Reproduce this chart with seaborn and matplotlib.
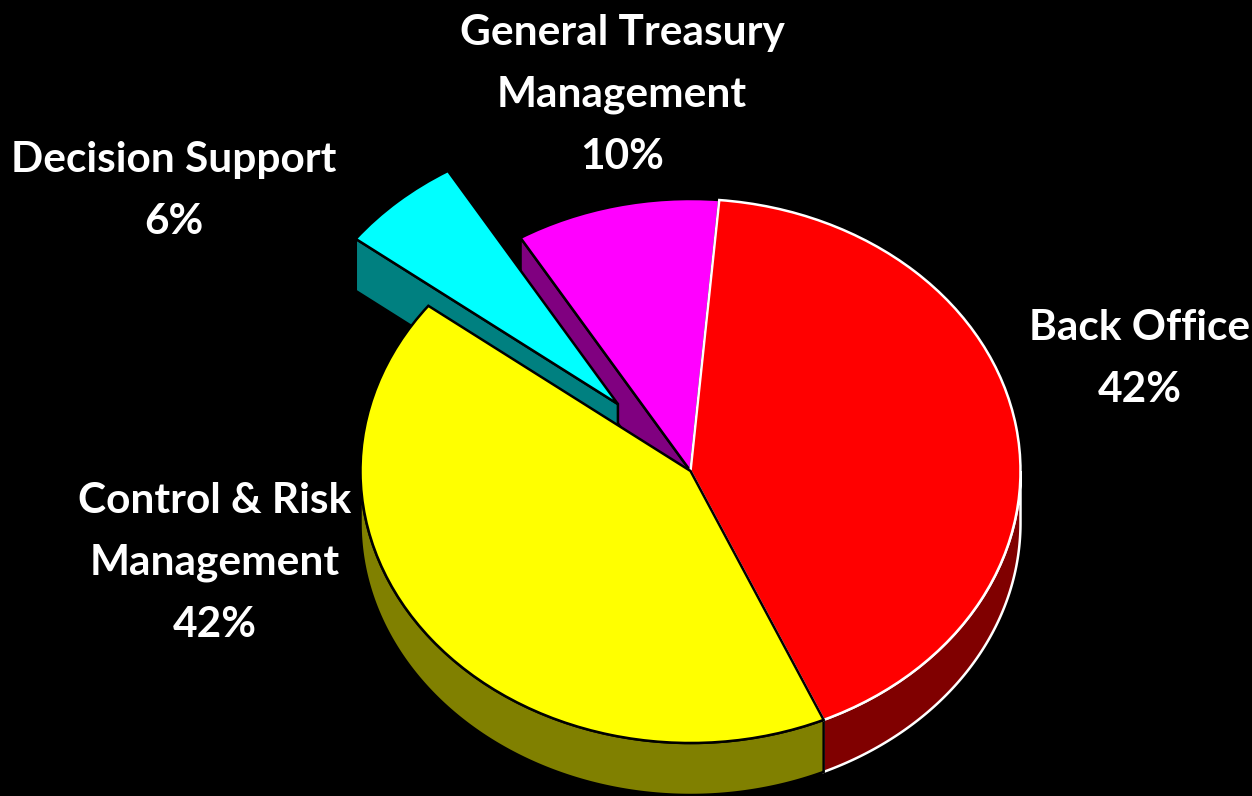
import numpy as np
import matplotlib
matplotlib.use("Agg")
import matplotlib.pyplot as plt
from matplotlib.patches import Polygon
import seaborn as sns

# Share of effort by function
categories = ["Back Office", "Control & Risk\nManagement", "Decision Support",
              "General Treasury\nManagement"]
shares = [42, 42, 6, 10]
face_colors = ["#FF0000", "#FFFF00", "#00FFFF", "#FF00FF"]
wall_colors = ["#800000", "#808000", "#008080", "#800080"]
edge_colors = ["white", "black", "black", "black"]
explode = [0, 0, 0.33, 0]

# Label anchors: centre x and first baseline y, in figure pixels
label_x = [1140, 215, 174, 622]
label_y = [340, 513, 172, 45]
LINE_STEP = 62

W, H, DPI = 1252, 796, 100
CX, CY, RX, RY = 690.5, 471, 330, 272   # pie centre and radii on the page
DEPTH = 52 / RY                          # disc thickness in data units

sns.set_theme(style="dark")
plt.rcParams["font.family"] = ["Lato", "DejaVu Sans"]

fig = plt.figure(figsize=(W / DPI, H / DPI), dpi=DPI, facecolor="black")
ax = fig.add_axes([0, 0, 1, 1])
ax.set_facecolor("black")

wedges, _ = ax.pie(shares, colors=face_colors, explode=explode, startangle=85,
                   counterclock=False, radius=1, center=(0, 0),
                   wedgeprops=dict(linewidth=1.8))
ax.set_aspect("auto")
ax.set_xlim(-CX / RX, (W - CX) / RX)
ax.set_ylim(-(H - CY) / RY, CY / RY)
ax.axis("off")

n = len(wedges)
top_order = {3: 4, 0: 5, 1: 6}
for i, w in enumerate(wedges):
    w.set_edgecolor(edge_colors[i])
    w.set_zorder(3 if explode[i] > 0 else top_order.get(i, 4))


def arc(cx, cy, t):
    return cx + np.cos(t), cy + np.sin(t)


# Outer walls: the parts of each rim that face the viewer
for i in [0, 1, 2, 3]:
    w = wedges[i]
    cx, cy = w.center
    t = np.radians(np.linspace(w.theta1, w.theta2, 600))
    front = np.sin(t) <= 0
    if not front.any():
        continue
    idx = np.flatnonzero(front)
    runs = np.split(idx, np.flatnonzero(np.diff(idx) > 1) + 1)
    for run in runs:
        tt = t[run]
        xs, ys = arc(cx, cy, tt)
        pts = np.column_stack([np.r_[xs, xs[::-1]], np.r_[ys, ys[::-1] - DEPTH]])
        ax.add_patch(Polygon(pts, closed=True, facecolor=wall_colors[i],
                             edgecolor=edge_colors[i], linewidth=1.8,
                             zorder=2 + 0.1 * i))

# Radial walls exposed by the gap round the pulled-out slice
for i, w in enumerate(wedges):
    cx, cy = w.center
    for theta, normal, nb in [(w.theta2, w.theta2 + 90, (i - 1) % n),
                              (w.theta1, w.theta1 - 90, (i + 1) % n)]:
        if explode[i] == 0 and explode[nb] == 0:
            continue
        if np.sin(np.radians(normal)) >= 0:
            continue
        ex, ey = arc(cx, cy, np.radians(theta))
        pts = [(cx, cy), (ex, ey), (ex, ey - DEPTH), (cx, cy - DEPTH)]
        ax.add_patch(Polygon(pts, closed=True, facecolor=wall_colors[i],
                             edgecolor="black", linewidth=1.8,
                             zorder=2 if explode[i] > 0 else 1))

# Category labels with percentages
total = sum(shares)
for i, name in enumerate(categories):
    lines = name.split("\n") + [f"{round(100 * shares[i] / total)}%"]
    for k, line in enumerate(lines):
        fig.text(label_x[i] / W, 1 - (label_y[i] + k * LINE_STEP) / H, line,
                 ha="center", va="baseline", color="white", fontsize=30.5,
                 fontweight="bold")

fig.savefig("out.png", dpi=DPI, facecolor="black")
